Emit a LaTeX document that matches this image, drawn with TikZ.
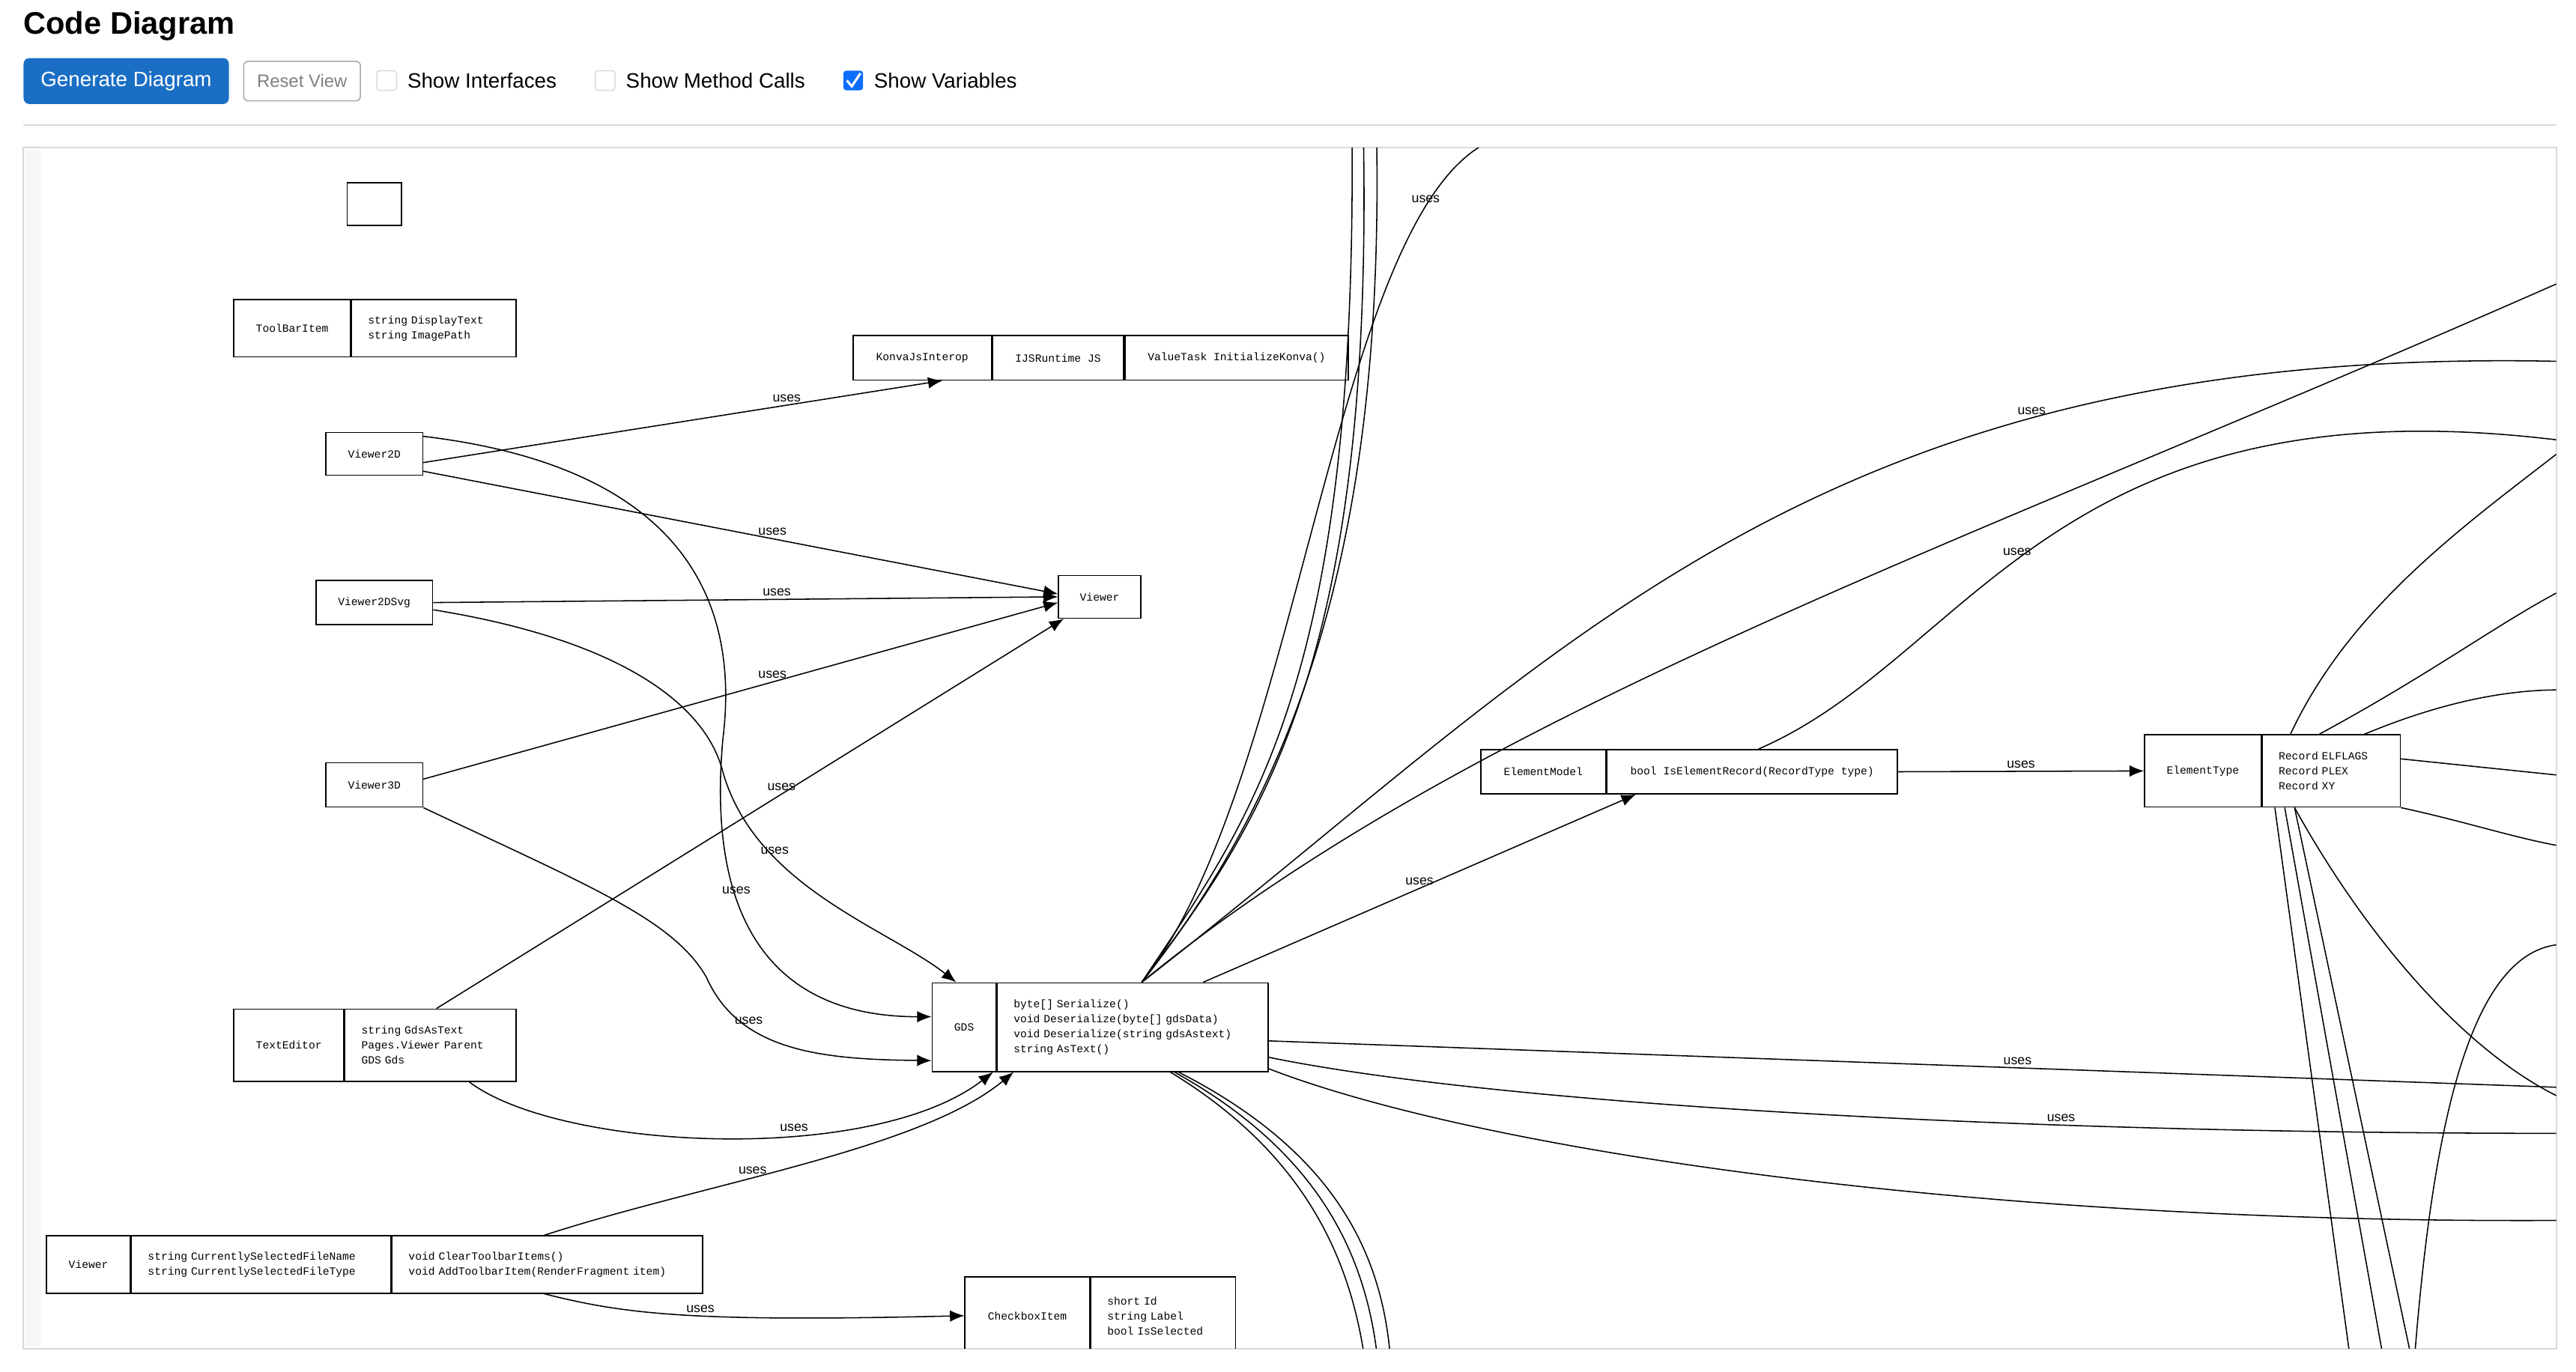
\documentclass[tikz,border=0pt]{standalone}
\usepackage{fontspec}
\setmainfont{Liberation Sans}
\setmonofont{Liberation Mono}
\usetikzlibrary{positioning}
\usetikzlibrary{arrows.meta}

\definecolor{btnblue}{RGB}{26,111,196}
\definecolor{chkblue}{RGB}{13,110,253}

\tikzset{
	cell/.style={draw, inner sep=0pt, font=\ttfamily\fontsize{3.8}{5.2}\selectfont, anchor=north west},
	varcell/.style={cell, align=left, inner xsep=0.2cm},
	uses/.style={draw, -{Latex[length=5pt,width=4pt]}},
	link/.style={draw},
	lbl/.style={font=\fontsize{4.6}{5}\selectfont, above, inner sep=1pt},
	boxlabel/.style={font=\fontsize{7.2}{8}\selectfont, anchor=west, inner sep=0pt},
}

\begin{document}
\begin{tikzpicture}[x=0.02cm, y=-0.02cm]

	\useasboundingbox (0,0) rectangle (1568,835);

	% header
	\node (title) [font=\bfseries\fontsize{10.8}{12}\selectfont, anchor=west, inner sep=0pt] at (14,16) {Code Diagram};
	\node (generate) [fill=btnblue, rounded corners=2pt, text=white, minimum width=2.5cm, minimum height=0.56cm, font=\fontsize{7.2}{8}\selectfont, anchor=north west] at (14,35) {Generate Diagram};
	\node (reset) [draw=gray!70, rounded corners=1.5pt, text=gray, minimum width=1.42cm, minimum height=0.48cm, font=\fontsize{6.2}{7}\selectfont, anchor=north west] at (148,37) {Reset View};
	\node (cb1) [draw=gray!30, rounded corners=1pt, minimum size=0.24cm, inner sep=0pt, anchor=west] at (229,49) {};
	\node (cb1_text) [boxlabel, right=0.12cm of cb1] {Show Interfaces};
	\node (cb2) [draw=gray!30, rounded corners=1pt, minimum size=0.24cm, inner sep=0pt, anchor=west] at (362,49) {};
	\node (cb2_text) [boxlabel, right=0.12cm of cb2] {Show Method Calls};
	\node (cb3) [fill=chkblue, rounded corners=1pt, minimum size=0.24cm, inner sep=0pt, anchor=west] at (513,49) {};
	\path[draw, white, line width=0.8pt] ([xshift=-2.2pt]cb3.center) -- ([yshift=-2pt, xshift=-0.5pt]cb3.center) -- ([xshift=2.5pt, yshift=2.5pt]cb3.center);
	\node (cb3_text) [boxlabel, right=0.12cm of cb3] {Show Variables};
	\path[draw, gray!30, line width=0.6pt] (14,76) -- (1556,76);

	% canvas
	\path[draw, gray!30, line width=0.5pt] (14,90) rectangle (1556,821);
	\path[fill=gray!6] (15,91) rectangle (25,820);

	% classes
	\node (empty) [cell, minimum width=0.66cm, minimum height=0.52cm] at (211,111) {};

	\node (toolbar) [cell, minimum width=1.42cm, minimum height=0.7cm] at (142,182) {ToolBarItem};
	\node (toolbar_vars) [varcell, text width=1.6cm, minimum height=0.7cm, right=0pt of toolbar] {string DisplayText\\string ImagePath};

	\node (konva) [cell, minimum width=1.68cm, minimum height=0.54cm] at (519,204) {KonvaJsInterop};
	\node (konva_vars) [cell, minimum width=1.6cm, minimum height=0.54cm, right=0pt of konva] {IJSRuntime JS};
	\node (konva_meth) [cell, minimum width=2.72cm, minimum height=0.54cm, right=0pt of konva_vars] {ValueTask InitializeKonva()};

	\node (viewer2d) [cell, minimum width=1.18cm, minimum height=0.52cm] at (198,263) {Viewer2D};
	\node (viewer) [cell, minimum width=1.0cm, minimum height=0.52cm] at (644,350) {Viewer};
	\node (viewer2dsvg) [cell, minimum width=1.42cm, minimum height=0.54cm] at (192,353) {Viewer2DSvg};
	\node (viewer3d) [cell, minimum width=1.18cm, minimum height=0.54cm] at (198,464) {Viewer3D};

	\node (elmodel) [cell, minimum width=1.52cm, minimum height=0.54cm] at (901,456) {ElementModel};
	\node (elmodel_meth) [cell, minimum width=3.54cm, minimum height=0.54cm, right=0pt of elmodel] {bool IsElementRecord(RecordType type)};

	\node (eltype) [cell, minimum width=1.42cm, minimum height=0.88cm] at (1305,447) {ElementType};
	\node (eltype_vars) [varcell, text width=1.28cm, minimum height=0.88cm, right=0pt of eltype] {Record ELFLAGS\\Record PLEX\\Record XY};

	\node (gds) [cell, minimum width=0.78cm, minimum height=1.08cm] at (567,598) {GDS};
	\node (gds_meth) [varcell, text width=2.9cm, minimum height=1.08cm, right=0pt of gds] {byte[] Serialize()\\void Deserialize(byte[] gdsData)\\void Deserialize(string gdsAstext)\\string AsText()};

	\node (texteditor) [cell, minimum width=1.34cm, minimum height=0.88cm] at (142,614) {TextEditor};
	\node (texteditor_vars) [varcell, text width=1.68cm, minimum height=0.88cm, right=0pt of texteditor] {string GdsAsText\\Pages.Viewer Parent\\GDS Gds};

	\node (mainviewer) [cell, minimum width=1.02cm, minimum height=0.7cm] at (28,752) {Viewer};
	\node (mainviewer_vars) [varcell, text width=2.76cm, minimum height=0.7cm, right=0pt of mainviewer] {string CurrentlySelectedFileName\\string CurrentlySelectedFileType};
	\node (mainviewer_meth) [varcell, text width=3.38cm, minimum height=0.7cm, right=0pt of mainviewer_vars] {void ClearToolbarItems()\\void AddToolbarItem(RenderFragment item)};

	\begin{scope}
	\clip (14,90) rectangle (1556,821);
	\node (checkbox) [cell, minimum width=1.52cm, minimum height=0.96cm] at (587,777) {CheckboxItem};
	\node (checkbox_vars) [varcell, text width=1.36cm, minimum height=0.96cm, right=0pt of checkbox] {short Id\\string Label\\bool IsSelected};

	% free ends outside the canvas
	\coordinate (top1) at (823,88);
	\coordinate (top2) at (830,88);
	\coordinate (top3) at (838,88);
	\coordinate (top4) at (903,88);
	\coordinate (bot1) at (830,823);
	\coordinate (bot2) at (838,823);
	\coordinate (bot3) at (846,823);
	\coordinate (r1) at (1558,172);
	\coordinate (r2) at (1558,220);
	\coordinate (r3) at (1558,268);
	\coordinate (r4) at (1558,662);
	\coordinate (r5) at (1558,690);
	\coordinate (r6) at (1558,743);
	\coordinate (e1) at (1558,275);
	\coordinate (e2) at (1558,360);
	\coordinate (e3) at (1558,420);
	\coordinate (e4) at (1558,472);
	\coordinate (e5) at (1558,515);
	\coordinate (e6) at (1558,668);
	\coordinate (e7) at (1558,575);
	\coordinate (eb1) at (1430,823);
	\coordinate (eb2) at (1450,823);
	\coordinate (eb3) at (1467,823);
	\coordinate (eb4) at (1470,823);

	% connectors
	\path[uses] ([yshift=-3pt]viewer2d.east) -- node[lbl, pos=0.7] {uses} ([xshift=-0.6cm]konva.south east);
	\path[uses] ([yshift=-6pt]viewer2d.east) -- node[lbl, pos=0.55] {uses} ([yshift=1pt]viewer.west);
	\path[uses] (viewer2dsvg.east) -- node[lbl, pos=0.55] {uses} (viewer.west);
	\path[uses] ([yshift=2pt]viewer3d.east) -- node[lbl, pos=0.55] {uses} ([yshift=-2pt]viewer.west);
	\path[uses] ([xshift=1.12cm]texteditor_vars.north west) -- node[lbl, pos=0.55] {uses} ([xshift=2pt]viewer.south west);

	\path[uses] ([yshift=-1.5pt]viewer2d.north east) .. controls (420,285) and (450,370) .. (440,450) .. controls (430,560) and (470,619) .. node[lbl, pos=0.35] {uses} ([yshift=-0.42cm]gds.north west);
	\path[uses] ([yshift=-2.5pt]viewer2dsvg.east) .. controls (380,390) and (430,430) .. (440,470) .. controls (460,540) and (540,565) .. node[lbl, pos=0.3] {uses} ([xshift=0.3cm]gds.north west);
	\path[uses] (viewer3d.south east) .. controls (360,540) and (410,560) .. (430,595) .. controls (450,640) and (500,645) .. node[lbl, pos=0.3] {uses} ([yshift=0.14cm]gds.south west);
	\path[uses] ([xshift=1.52cm]texteditor_vars.south west) .. controls (340,700) and (530,710) .. node[lbl, pos=0.62] {uses} ([xshift=0.75cm]gds.south west);
	\path[uses] ([xshift=1.86cm]mainviewer_meth.north west) .. controls (430,720) and (560,700) .. node[lbl, pos=0.4] {uses} ([xshift=1.0cm]gds.south west);
	\path[uses] ([xshift=1.86cm]mainviewer_meth.south west) .. controls (380,800) and (420,805) .. node[lbl, pos=0.55] {uses} ([yshift=-0.48cm]checkbox.north west);

	\path[uses] ([xshift=-0.8cm]gds_meth.north east) -- node[lbl, pos=0.5] {uses} ([xshift=0.36cm]elmodel_meth.south west);
	\path[uses] (elmodel_meth.east) -- node[lbl] {uses} (eltype.west);

	% GDS up
	\path[link] ([xshift=2.56cm]gds.north west) .. controls (760,500) and (825,420) .. (top1);
	\path[link] ([xshift=2.56cm]gds.north west) .. controls (770,500) and (835,400) .. (top2);
	\path[link] ([xshift=2.56cm]gds.north west) .. controls (780,490) and (842,350) .. (top3);
	\path[link] ([xshift=2.56cm]gds.north west) .. controls (790,480) and (810,140) .. node[lbl, pos=0.86] {uses} (top4);
	\path[link] ([xshift=2.56cm]gds.north west) .. controls (900,430) and (1200,330) .. (r1);
	\path[link] ([xshift=2.56cm]gds.north west) .. controls (950,400) and (1100,210) .. node[lbl, pos=0.72] {uses} (r2);
	\path[link] ([xshift=-1.7cm]elmodel_meth.north east) .. controls (1200,400) and (1250,230) .. node[lbl, pos=0.45] {uses} (r3);

	% GDS right
	\path[link] ([yshift=0.38cm]gds_meth.south east) -- node[lbl, pos=0.58] {uses} (r4);
	\path[link] ([yshift=0.18cm]gds_meth.south east) .. controls (900,670) and (1200,690) .. node[lbl, pos=0.7] {uses} (r5);
	\path[link] ([yshift=0.04cm]gds_meth.south east) .. controls (900,700) and (1200,745) .. (r6);

	% GDS down
	\path[link] ([xshift=-1.2cm]gds_meth.south east) .. controls (790,700) and (820,760) .. (bot1);
	\path[link] ([xshift=-1.15cm]gds_meth.south east) .. controls (800,700) and (830,760) .. (bot2);
	\path[link] ([xshift=-1.1cm]gds_meth.south east) .. controls (810,700) and (840,760) .. (bot3);

	% ElementType
	\path[link] ([xshift=0.35cm]eltype_vars.north west) .. controls (1430,370) and (1500,320) .. (e1);
	\path[link] ([xshift=0.7cm]eltype_vars.north west) .. controls (1480,410) and (1520,380) .. (e2);
	\path[link] ([xshift=1.25cm]eltype_vars.north west) .. controls (1480,430) and (1520,420) .. (e3);
	\path[link] ([yshift=-0.3cm]eltype_vars.north east) -- (e4);
	\path[link] (eltype_vars.south east) .. controls (1500,500) and (1530,510) .. (e5);
	\path[link] ([xshift=0.4cm]eltype_vars.south west) .. controls (1440,570) and (1500,640) .. (e6);
	\path[link] ([xshift=0.16cm]eltype_vars.south west) -- (eb1);
	\path[link] ([xshift=0.28cm]eltype_vars.south west) -- (eb2);
	\path[link] ([xshift=0.4cm]eltype_vars.south west) -- (eb3);
	\path[link] (eb4) .. controls (1480,700) and (1500,580) .. (e7);
	\end{scope}

\end{tikzpicture}
\end{document}
